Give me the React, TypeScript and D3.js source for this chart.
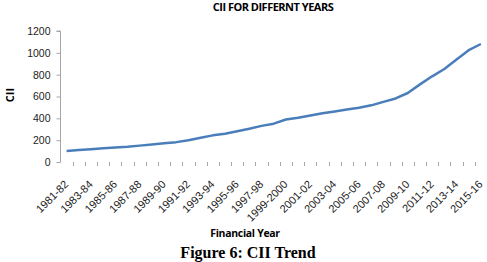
import React, { useEffect, useRef } from 'react';
import * as d3 from 'd3';

const years = [
  '1981-82', '1982-83', '1983-84', '1984-85', '1985-86', '1986-87', '1987-88',
  '1988-89', '1989-90', '1990-91', '1991-92', '1992-93', '1993-94', '1994-95',
  '1995-96', '1996-97', '1997-98', '1998-99', '1999-2000', '2000-01', '2001-02',
  '2002-03', '2003-04', '2004-05', '2005-06', '2006-07', '2007-08', '2008-09',
  '2009-10', '2010-11', '2011-12', '2012-13', '2013-14', '2014-15', '2015-16',
];
const cii = [
  100, 109, 116, 125, 133, 140, 150, 161, 172, 182, 199, 223, 244, 259, 281,
  305, 331, 351, 389, 406, 426, 447, 463, 480, 497, 519, 551, 582, 632, 711,
  785, 852, 939, 1024, 1081,
];
const yTicks = [0, 200, 400, 600, 800, 1000, 1200];

const App = () => {
  const ref = useRef<SVGSVGElement>(null);

  useEffect(() => {
    const width = 487, height = 262;
    const left = 60.5, right = 487, top = 31, bottom = 162;

    const svg = d3.select(ref.current);
    svg.selectAll('*').remove();
    svg.attr('width', width).attr('height', height);

    const x = d3.scaleBand().domain(years).range([left, right]);
    const y = d3.scaleLinear().domain([0, 1200]).range([bottom, top]);

    // y axis
    const yAxis = svg.append('g').attr('transform', `translate(${left},0)`)
      .call(d3.axisLeft(y).tickValues(yTicks).tickSize(4).tickFormat(d3.format('d')));
    yAxis.select('.domain').attr('stroke', '#a6a6a6').attr('d', `M-4,${top}H0V${bottom}`);
    yAxis.selectAll('.tick line').attr('stroke', '#a6a6a6');
    yAxis.selectAll('text').attr('x', -10).attr('font-size', 10.5)
      .attr('font-family', 'Liberation Sans, Arial, sans-serif').attr('fill', '#222');

    // x ticks between categories
    svg.append('g').selectAll('line')
      .data(years.slice(1))
      .enter().append('line')
      .attr('x1', d => Math.round(x(d) as number) + 0.5)
      .attr('x2', d => Math.round(x(d) as number) + 0.5)
      .attr('y1', bottom).attr('y2', bottom + 4)
      .attr('stroke', '#a6a6a6');

    // x labels, every other year
    svg.append('g').selectAll('text')
      .data(years.filter((_, i) => i % 2 === 0))
      .enter().append('text')
      .attr('transform', d => `translate(${(x(d) as number) + x.bandwidth() / 2 + 2.5},185) rotate(-45)`)
      .attr('text-anchor', 'end')
      .attr('font-size', 11)
      .attr('font-family', 'Liberation Sans, Arial, sans-serif')
      .attr('fill', '#222')
      .text(d => d);

    const line = d3.line<number>()
      .x((_, i) => (x(years[i]) as number) + x.bandwidth() / 2)
      .y(d => y(d));

    svg.append('path')
      .attr('d', line(cii))
      .style('fill', 'none')
      .style('stroke', '#4a7ebb')
      .style('stroke-width', 2.5)
      .style('stroke-linejoin', 'round');

    svg.append('text')
      .attr('x', 273).attr('y', 11)
      .attr('text-anchor', 'middle')
      .attr('font-size', 11).attr('font-weight', 'bold')
      .attr('font-family', 'Open Sans, Liberation Sans, sans-serif')
      .attr('letter-spacing', -0.5)
      .text('CII FOR DIFFERNT YEARS');

    svg.append('text')
      .attr('transform', 'translate(14,95) rotate(-90)')
      .attr('text-anchor', 'middle')
      .attr('font-size', 11).attr('font-weight', 'bold')
      .attr('font-family', 'Open Sans, Liberation Sans, sans-serif')
      .text('CII');

    svg.append('text')
      .attr('x', 245).attr('y', 237)
      .attr('text-anchor', 'middle')
      .attr('font-size', 10.5).attr('font-weight', 'bold')
      .attr('font-family', 'Open Sans, Liberation Sans, sans-serif')
      .attr('letter-spacing', -0.3)
      .text('Financial Year');

    svg.append('text')
      .attr('x', 248).attr('y', 258)
      .attr('text-anchor', 'middle')
      .attr('font-size', 16).attr('font-weight', 'bold')
      .attr('font-family', 'Liberation Serif, Times New Roman, serif')
      .text('Figure 6: CII Trend');
  }, []);

  return (
    <svg ref={ref} style={{ position: 'absolute', left: 0, top: 0, background: '#fff' }}></svg>
  );
};

export default App;
